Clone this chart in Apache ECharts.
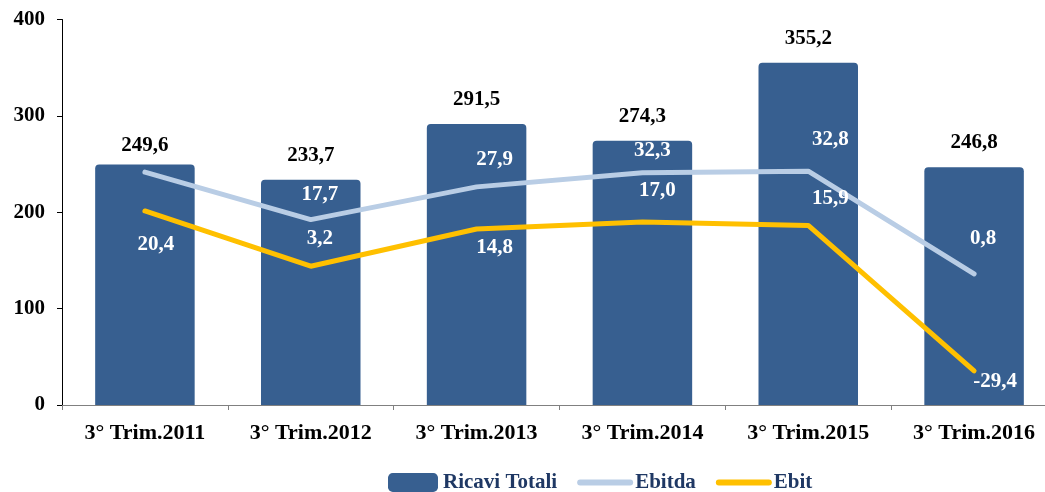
<!DOCTYPE html>
<html>
<head>
<meta charset="utf-8">
<script src="https://cdn.jsdelivr.net/npm/echarts@6/dist/echarts.min.js"></script>
<style>html,body{margin:0;padding:0;background:#fff;overflow:hidden;width:1045px;height:492px}#c{width:1060px;height:492px}</style>
</head>
<body>
<div id="c"></div>
<script>
const categories = ['3° Trim.2011','3° Trim.2012','3° Trim.2013','3° Trim.2014','3° Trim.2015','3° Trim.2016'];
const ricavi = [249.6, 233.7, 291.5, 274.3, 355.2, 246.8];
const ebitda = [32.5, 17.7, 27.9, 32.3, 32.8, 0.8];
const ebit = [20.4, 3.2, 14.8, 17.0, 15.9, -29.4];
const yTicks = [0, 100, 200, 300, 400];
// label offsets (styling only)
const ebitdaOffsets = [null, [9,-25], [18,-27], [10,-22], [22,-32], [9,-35]];
const ebitOffsets = [[11,34], [9,-28], [18,19], [15,-31], [22,-27], [21,11]];

const serif = '"Liberation Serif", "Times New Roman", serif';
const fmt = v => String(v.toFixed(1)).replace('.', ',');

function lineData(vals, offs) {
  return vals.map((v, i) => ({
    value: v,
    label: offs[i] ? { show: true, position: 'inside', offset: offs[i] } : { show: false }
  }));
}

const chart = echarts.init(document.getElementById('c'), null, {renderer: 'canvas'});
chart.setOption({
  animation: false,
  grid: { left: 62, top: 19.5, height: 385.5, width: 995 },
  legend: {
    left: 383, top: 467,
    itemWidth: 50, itemHeight: 19, itemGap: 20,
    textStyle: { fontFamily: serif, fontWeight: 'bold', fontSize: 21, color: '#1F3864' },
    data: [
      { name: 'Ricavi Totali', icon: 'roundRect' },
      { name: 'Ebitda', itemStyle: { opacity: 0 }, lineStyle: { width: 6, cap: 'round' } },
      { name: 'Ebit', itemStyle: { opacity: 0 }, lineStyle: { width: 6, cap: 'round' } }
    ]
  },
  xAxis: {
    type: 'category',
    data: categories,
    axisLine: { lineStyle: { color: '#808080', width: 1 } },
    axisTick: { show: true, length: 5, lineStyle: { color: '#808080' } },
    axisLabel: { fontFamily: serif, fontWeight: 'bold', fontSize: 22, color: '#000', margin: 17 }
  },
  yAxis: [{
    type: 'value', min: yTicks[0], max: yTicks[yTicks.length - 1], interval: 100,
    splitLine: { show: false },
    axisLine: { show: true, lineStyle: { color: '#000' } },
    axisTick: { show: true, length: 5, lineStyle: { color: '#000' } },
    axisLabel: { fontFamily: serif, fontWeight: 'bold', fontSize: 21, color: '#000', margin: 17 }
  }, {
    type: 'value', min: -40, max: 80, show: false, splitLine: { show: false }
  }],
  series: [{
    name: 'Ricavi Totali', type: 'bar',
    data: ricavi.map((v, i) => i === 0 ? { value: v, label: { distance: 8 } } : v),
    barWidth: '60%',
    itemStyle: { color: '#375F90', borderRadius: [4,4,0,0] },
    label: { show: true, position: 'top', distance: 14, formatter: p => fmt(p.value),
      fontFamily: serif, fontWeight: 'bold', fontSize: 21, color: '#000' },
    z: 1
  }, {
    name: 'Ebitda', type: 'line', yAxisIndex: 1, data: lineData(ebitda, ebitdaOffsets),
    symbol: 'circle', symbolSize: 0.01, showSymbol: true,
    lineStyle: { color: '#B9CDE5', width: 5, cap: 'round' },
    itemStyle: { color: '#B9CDE5' },
    label: { show: true, formatter: p => fmt(p.value), fontFamily: serif, fontWeight: 'bold', fontSize: 21, color: '#fff' },
    z: 3
  }, {
    name: 'Ebit', type: 'line', yAxisIndex: 1, data: lineData(ebit, ebitOffsets),
    symbol: 'circle', symbolSize: 0.01, showSymbol: true,
    lineStyle: { color: '#FFC000', width: 5, cap: 'round' },
    itemStyle: { color: '#FFC000' },
    label: { show: true, formatter: p => fmt(p.value), fontFamily: serif, fontWeight: 'bold', fontSize: 21, color: '#fff' },
    z: 3
  }]
});
</script>
</body>
</html>
